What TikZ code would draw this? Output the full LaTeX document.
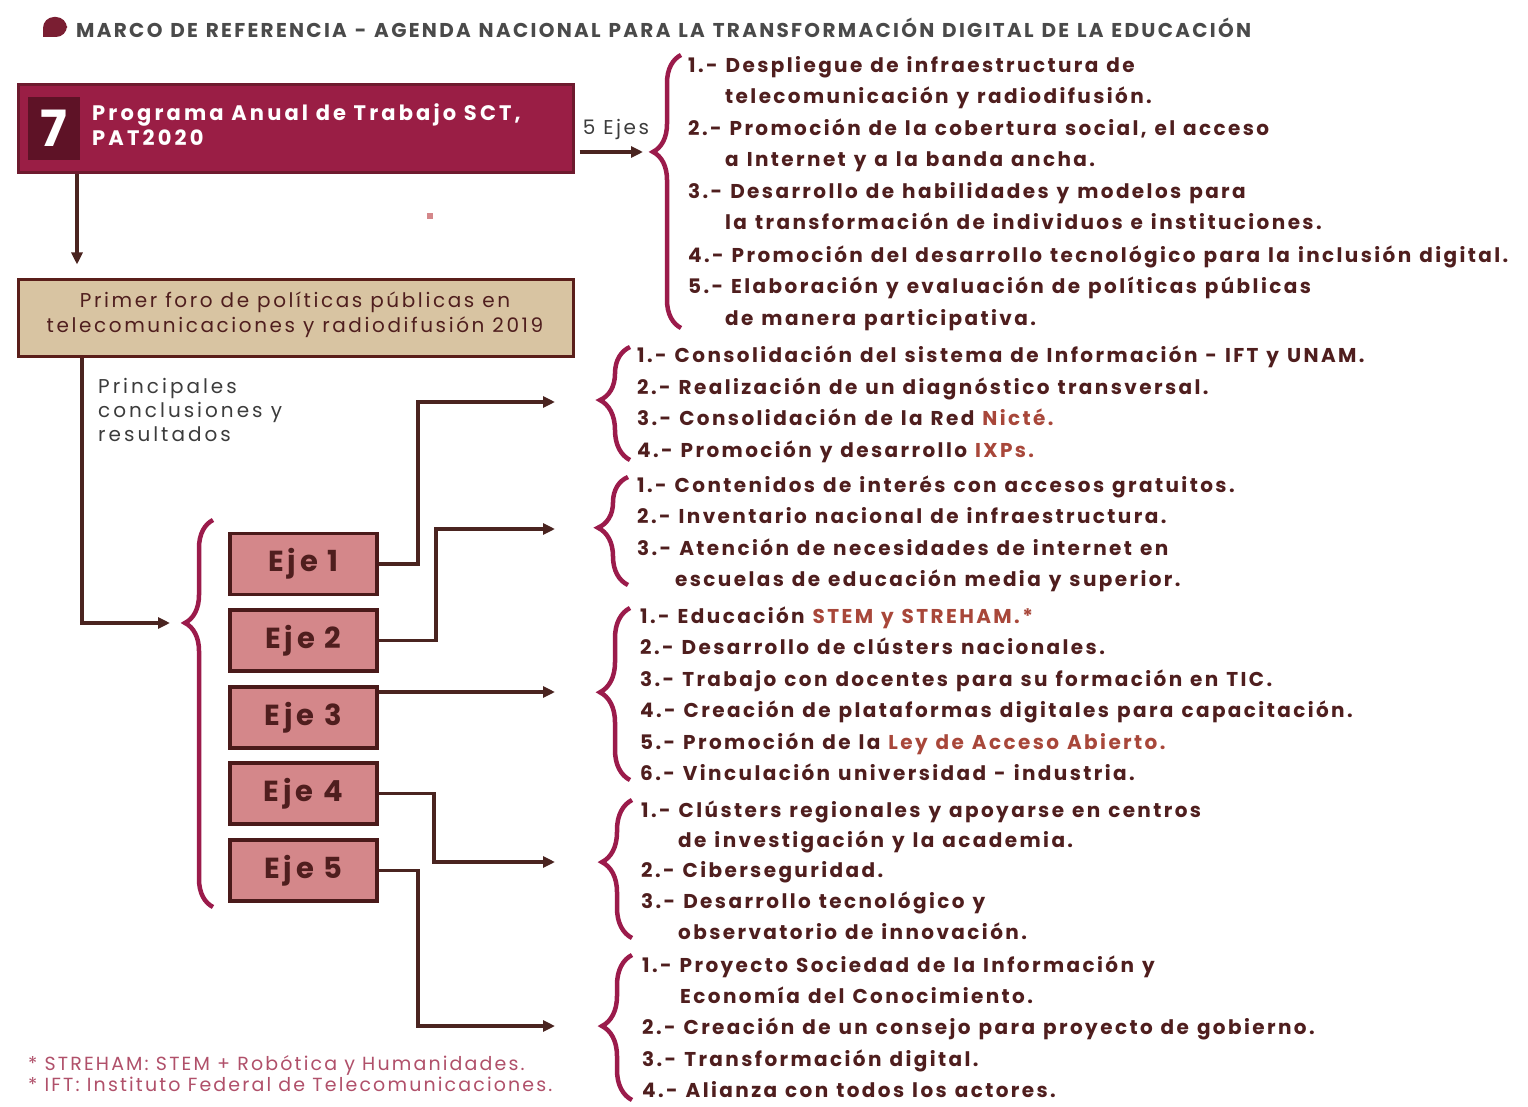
\documentclass[tikz,border=0pt]{standalone}
\usepackage{fontspec}
\setmainfont{Poppins}[LetterSpace=13]
\newfontfamily\hdfont{Poppins}[LetterSpace=11.5,WordSpace=1.2]
\newfontfamily\ftfont{Poppins}[LetterSpace=11.3]
\newfontfamily\lstfont{Poppins}[LetterSpace=12,WordSpace=1.2]
\newfontfamily\patfont{Poppins}[LetterSpace=15]
\usetikzlibrary{decorations.pathreplacing,arrows.meta}
\definecolor{crim}{HTML}{9A1E45}
\definecolor{crimdark}{HTML}{6E1A2E}
\definecolor{sevenbg}{HTML}{5E1226}
\definecolor{tan}{HTML}{D8C4A2}
\definecolor{tanborder}{HTML}{5A1E1A}
\definecolor{ejefill}{HTML}{D4878A}
\definecolor{ejeborder}{HTML}{4A1A1A}
\definecolor{txt}{HTML}{4F1E1E}
\definecolor{hlcol}{HTML}{A8473A}
\definecolor{bracecol}{HTML}{9B1B4B}
\definecolor{conncol}{HTML}{4A2420}
\definecolor{headcol}{HTML}{4A4A4A}
\definecolor{dotcol}{HTML}{7A1E32}
\definecolor{footcol}{HTML}{B0506A}
\definecolor{graytxt}{HTML}{3C3C3C}
\newcommand\hlt[1]{\textcolor{hlcol}{#1}}
\newcommand\itm[4]{\node[lst] (#1) at (#2,#3) {#4};}
\tikzset{
  lst/.style={anchor=base west,inner sep=0pt,text=txt,font=\lstfont\fontsize{20}{24}\selectfont\bfseries},
  plain/.style={anchor=base west,inner sep=0pt,text=graytxt,font=\patfont\fontsize{20}{24}\selectfont},
  conn/.style={draw=conncol,line width=3.5pt},
  arr/.style={conn,-{Triangle[length=12pt,width=11pt]}},
  brc/.style={draw=bracecol,line width=4.5pt,decorate,decoration={brace,amplitude=#1}},
  ejebox/.style={draw=ejeborder,fill=ejefill,line width=3.5pt,minimum width=147pt,minimum height=61pt,inner sep=0pt,text=txt,font=\fontsize{29}{32}\selectfont\bfseries},
}
\begin{document}
\begin{tikzpicture}[x=1pt,y=-1pt]
\useasboundingbox[fill=white] (0,0) rectangle (1528,1107);
% header
\fill[dotcol,rounded corners=11pt] (43,37) [sharp corners] -- (43,28) [rounded corners=11pt] -- (43,17) -- (67,17) -- (67,37) [sharp corners] -- cycle;
\node[anchor=base west,inner sep=0pt,text=headcol,font=\hdfont\fontsize{20}{24}\selectfont\bfseries] (head) at (76,38) {MARCO DE REFERENCIA - AGENDA NACIONAL PARA LA TRANSFORMACIÓN DIGITAL DE LA EDUCACIÓN};
% box 1
\node[draw=crimdark,fill=crim,line width=3pt,minimum width=555pt,minimum height=88pt,inner sep=0pt] (b1) at (295.5,129) {};
\node[fill=sevenbg,minimum width=52pt,minimum height=63pt,inner sep=0pt,text=white,font=\fontsize{50}{50}\selectfont\bfseries] (seven) at (54,128.5) {7};
\node[anchor=base west,inner sep=0pt,text=white,font=\patfont\fontsize{21}{24}\selectfont\bfseries] (pat1) at (92,121) {Programa Anual de Trabajo SCT,};
\node[anchor=base west,inner sep=0pt,text=white,font=\patfont\fontsize{21}{24}\selectfont\bfseries] (pat2) at (92,146) {PAT2020};
% box 2
\node[draw=tanborder,fill=tan,line width=3pt,minimum width=555pt,minimum height=76pt,inner sep=0pt] (b2) at (295.5,318) {};
\node[anchor=base,inner sep=0pt,text=txt,font=\fontsize{20}{24}\selectfont] (foro1) at (295,307) {Primer foro de políticas públicas en};
\node[anchor=base,inner sep=0pt,text=txt,font=\fontsize{20}{24}\selectfont] (foro2) at (295,332) {telecomunicaciones y radiodifusión 2019};
% tiny mark
\node[fill=ejefill,minimum size=6pt,inner sep=0pt] (mark) at (430,216) {};
% arrows left
\coordinate (c77) at (77,0);
\draw[arr,shorten >=14pt] (b1.south -| c77) -- (b2.north -| c77);
\coordinate (c82) at (82,623);
\coordinate (lb) at (170,623);
\draw[arr] (b2.south -| c82) -- (c82) -- (lb);
\node[plain] (pr1) at (98,393) {Principales};
\node[plain] (pr2) at (98,417) {conclusiones y};
\node[plain] (pr3) at (98,441) {resultados};
% 5 ejes
\coordinate (ar) at (643,152);
\node[anchor=base,inner sep=0pt,text=graytxt,font=\fontsize{20}{24}\selectfont] (cinco) at (616,135) {5 Ejes};
\draw[arr,shorten <=5pt] (b1.east |- ar) -- (ar);
% eje boxes
\node[ejebox] (e1) at (303.5,564) {Eje 1};
\node[ejebox] (e2) at (303.5,640.5) {Eje 2};
\node[ejebox] (e3) at (303.5,717.5) {Eje 3};
\node[ejebox] (e4) at (303.5,793.5) {Eje 4};
\node[ejebox] (e5) at (303.5,870.5) {Eje 5};
% left brace
\draw[brc=28pt,decoration={aspect=0.734}] (213,907) -- (213,520);
% connectors
\coordinate (a1) at (555,402);
\coordinate (a2) at (555,529);
\coordinate (a3) at (555,692);
\coordinate (a4) at (555,862);
\coordinate (a5) at (555,1026);
\draw[arr] (e1.east) -- ++(39,0) |- (a1);
\draw[arr] (e2.east) -- ++(57,0) |- (a2);
\draw[arr] (e3.east |- a3) -- (a3);
\draw[arr] (e4.east) -- ++(55,0) |- (a4);
\draw[arr] (e5.east) -- ++(39,0) |- (a5);
% right braces
\draw[brc=28pt,decoration={aspect=0.645}] (681,328) -- (681,55);
\draw[brc=30pt,decoration={aspect=0.53}] (630,460) -- (630,347);
\draw[brc=30pt,decoration={aspect=0.53}] (628,585) -- (628,477);
\draw[brc=30pt,decoration={aspect=0.51}] (630,780) -- (630,608);
\draw[brc=30pt,decoration={aspect=0.55}] (632,938) -- (632,800);
\draw[brc=30pt,decoration={aspect=0.51}] (632,1100) -- (632,955);
% top list
\itm{t1}{688}{73}{1.- Despliegue de infraestructura de}
\itm{t1b}{725}{104}{telecomunicación y radiodifusión.}
\itm{t2}{688}{136}{2.- Promoción de la cobertura social, el acceso}
\itm{t2b}{725}{167}{a Internet y a la banda ancha.}
\itm{t3}{688}{199}{3.- Desarrollo de habilidades y modelos para}
\itm{t3b}{725}{230}{la transformación de individuos e instituciones.}
\itm{t4}{688}{262}{4.- Promoción del desarrollo tecnológico para la inclusión digital.}
\itm{t5}{688}{294}{5.- Elaboración y evaluación de políticas públicas}
\itm{t5b}{725}{325}{de manera participativa.}
% eje 1 list
\itm{u1}{637}{362}{1.- Consolidación del sistema de Información - IFT y UNAM.}
\itm{u2}{637}{394}{2.- Realización de un diagnóstico transversal.}
\itm{u3}{637}{425}{3.- Consolidación de la Red \hlt{Nicté.}}
\itm{u4}{637}{457}{4.- Promoción y desarrollo \hlt{IXPs.}}
% eje 2 list
\itm{v1}{637}{492}{1.- Contenidos de interés con accesos gratuitos.}
\itm{v2}{637}{523}{2.- Inventario nacional de infraestructura.}
\itm{v3}{637}{555}{3.- Atención de necesidades de internet en}
\itm{v3b}{675}{586}{escuelas de educación media y superior.}
% eje 3 list
\itm{w1}{640}{623}{1.- Educación \hlt{STEM y STREHAM.*}}
\itm{w2}{640}{654}{2.- Desarrollo de clústers nacionales.}
\itm{w3}{640}{686}{3.- Trabajo con docentes para su formación en TIC.}
\itm{w4}{640}{717}{4.- Creación de plataformas digitales para capacitación.}
\itm{w5}{640}{749}{5.- Promoción de la \hlt{Ley de Acceso Abierto.}}
\itm{w6}{640}{780}{6.- Vinculación universidad - industria.}
% eje 4 list
\itm{x1}{641}{817}{1.- Clústers regionales y apoyarse en centros}
\itm{x1b}{678}{847}{de investigación y la academia.}
\itm{x2}{641}{877}{2.- Ciberseguridad.}
\itm{x3}{641}{908}{3.- Desarrollo tecnológico y}
\itm{x3b}{678}{939}{observatorio de innovación.}
% eje 5 list
\itm{y1}{642}{972}{1.- Proyecto Sociedad de la Información y}
\itm{y1b}{680}{1003}{Economía del Conocimiento.}
\itm{y2}{642}{1034}{2.- Creación de un consejo para proyecto de gobierno.}
\itm{y3}{642}{1066}{3.- Transformación digital.}
\itm{y4}{642}{1097}{4.- Alianza con todos los actores.}
% footnotes
\node[anchor=base west,inner sep=0pt,text=footcol,font=\ftfont\fontsize{19}{22}\selectfont] (f1) at (28,1070) {* STREHAM: STEM + Robótica y Humanidades.};
\node[anchor=base west,inner sep=0pt,text=footcol,font=\ftfont\fontsize{19}{22}\selectfont] (f2) at (28,1091) {* IFT: Instituto Federal de Telecomunicaciones.};
\end{tikzpicture}
\end{document}
